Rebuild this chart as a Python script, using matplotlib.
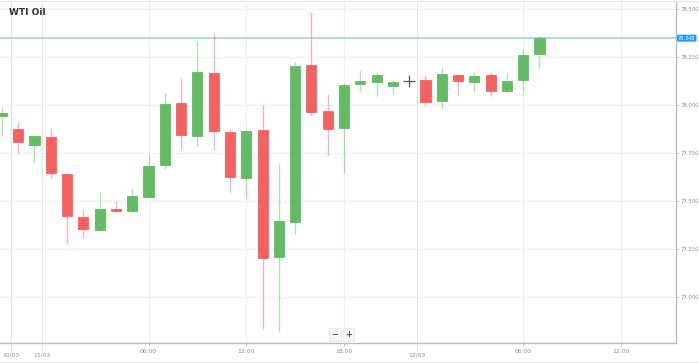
import matplotlib.pyplot as plt
from matplotlib.patches import Rectangle
import numpy as np

# hourly WTI candles (index 25 hidden under the cursor)
idx = list(range(25)) + list(range(26, 34))
opens = [77.941, 77.873, 77.790, 77.832, 77.641, 77.417, 77.349, 77.457, 77.449, 77.521,
         77.686, 78.010, 77.840, 78.168, 77.859, 77.620, 77.870, 77.207, 77.391, 78.210,
         77.970, 77.879, 78.109, 78.118, 78.099,
         78.130, 78.021, 78.158, 78.118, 78.158, 78.071, 78.130, 78.266]
highs = [77.990, 77.911, 77.842, 77.882, 77.651, 77.453, 77.547, 77.502, 77.566, 77.738,
         78.063, 78.141, 78.333, 78.375, 77.875, 77.870, 78.000, 77.691, 78.226, 78.484,
         78.057, 78.113, 78.184, 78.167, 78.130,
         78.155, 78.196, 78.160, 78.172, 78.172, 78.165, 78.285, 78.359]
lows = [77.839, 77.752, 77.702, 77.618, 77.278, 77.309, 77.345, 77.439, 77.439, 77.519,
        77.668, 77.766, 77.788, 77.766, 77.548, 77.509, 76.832, 76.819, 77.328, 77.944,
        77.736, 77.647, 78.073, 78.047, 78.056,
        78.000, 77.978, 78.047, 78.066, 78.048, 78.064, 78.066, 78.191]
closes = [77.960, 77.806, 77.837, 77.644, 77.420, 77.356, 77.460, 77.446, 77.524, 77.681,
          78.004, 77.844, 78.173, 77.865, 77.625, 77.865, 77.202, 77.396, 78.205, 77.964,
          77.875, 78.104, 78.123, 78.155, 78.118,
          78.014, 78.163, 78.123, 78.153, 78.074, 78.123, 78.259, 78.348]

current_price = 78.348
cursor = (25, 78.123)

yticks = [77.0, 77.25, 77.5, 77.75, 78.0, 78.25, 78.5]
time_ticks = [9, 15, 21, 32, 38]
time_labels = ["06:00", "12:00", "18:00", "06:00", "12:00"]
date_ticks = [0.56, 2.46, 25.48]
date_labels = ["10/03", "11/03", "12/03"]

GREEN = "#5cb85c"
RED = "#f55a5a"
GRID = "#eeeeee"
TXT = "#8a8a8a"

fig = plt.figure(figsize=(6.99, 3.63), dpi=100)
ax = fig.add_axes([0, 0.0551, 0.9671, 0.9422])

w = 0.62
for i, o, h, l, c in zip(idx, opens, highs, lows, closes):
    col = GREEN if c >= o else RED
    ax.vlines(i, l, h, color=col, alpha=0.45, lw=1, zorder=2)
    ax.add_patch(Rectangle((i - w / 2, min(o, c)), w, max(abs(c - o), 0.006),
                           facecolor=col, edgecolor=col, lw=0.6, alpha=0.95, zorder=3))

ax.plot(*cursor, marker="+", ms=8, mew=0.9, color="#555555", zorder=5)

ax.axhline(current_price, color="#a9d3f7", lw=1.3, zorder=1)

ax.set_xlim(-0.117, 41.38)
ax.set_ylim(76.760, 78.5417)

ax.set_yticks(yticks)
ax.set_yticklabels(["%.3f" % v for v in yticks])
ax.yaxis.tick_right()
ax.tick_params(axis="y", length=2.0, width=0.6, colors="#bbbbbb", labelcolor=TXT,
               labelsize=3.8, pad=1.0)

ax.set_xticks(time_ticks)
ax.set_xticklabels(time_labels)
ax.tick_params(axis="x", length=2.5, width=0.6, colors="#bbbbbb", labelcolor=TXT,
               labelsize=4.3, pad=1.5)

for y in yticks:
    ax.axhline(y, color=GRID, lw=0.8, zorder=0)
for x in time_ticks + date_ticks:
    ax.axvline(x, color=GRID if x in time_ticks else "#e4e4e4", lw=0.8, zorder=0)

# date labels sit lower with a dotted tick
for x, lab in zip(date_ticks, date_labels):
    ax.plot([x, x], [0, -0.02], transform=ax.get_xaxis_transform(), clip_on=False,
            color="#bbbbbb", lw=0.6, ls=(0, (1, 1)))
    ax.text(x, -0.028, lab, transform=ax.get_xaxis_transform(), ha="center", va="top",
            fontsize=4.3, color=TXT)

for side in ["left", "top"]:
    ax.spines[side].set_visible(False)
for side in ["right", "bottom"]:
    ax.spines[side].set_color("#bbbbbb")
    ax.spines[side].set_linewidth(1.0)

ax.text(0.013, 0.965, "WTI Oil", transform=ax.transAxes, fontsize=6.5,
        fontweight="bold", color="#333333", va="center", ha="left")

# current price tag
ax.text(1.003, current_price, "%.3f" % current_price, transform=ax.get_yaxis_transform(),
        fontsize=3.6, color="white", va="center", ha="left", clip_on=False,
        bbox=dict(boxstyle="round,pad=0.2,rounding_size=0.3", fc="#2196f3", ec="none"))

# zoom buttons
for x, s in [(20.45, "\u2212"), (21.3, "+")]:
    ax.text(x, 0.025, s, transform=ax.get_xaxis_transform(), fontsize=6,
            fontweight="bold", color="#555555", ha="center", va="center",
            bbox=dict(boxstyle="square,pad=0.25", fc="#f7f7f7", ec="#e6e6e6", lw=0.6))

# outer frame
fig.add_artist(plt.Line2D([0, 1], [0.997, 0.997], color="#e6e6e6", lw=0.8))
fig.add_artist(plt.Line2D([0, 1], [0.003, 0.003], color="#e0e0e0", lw=0.8))

fig.savefig("out.png", dpi=100)
